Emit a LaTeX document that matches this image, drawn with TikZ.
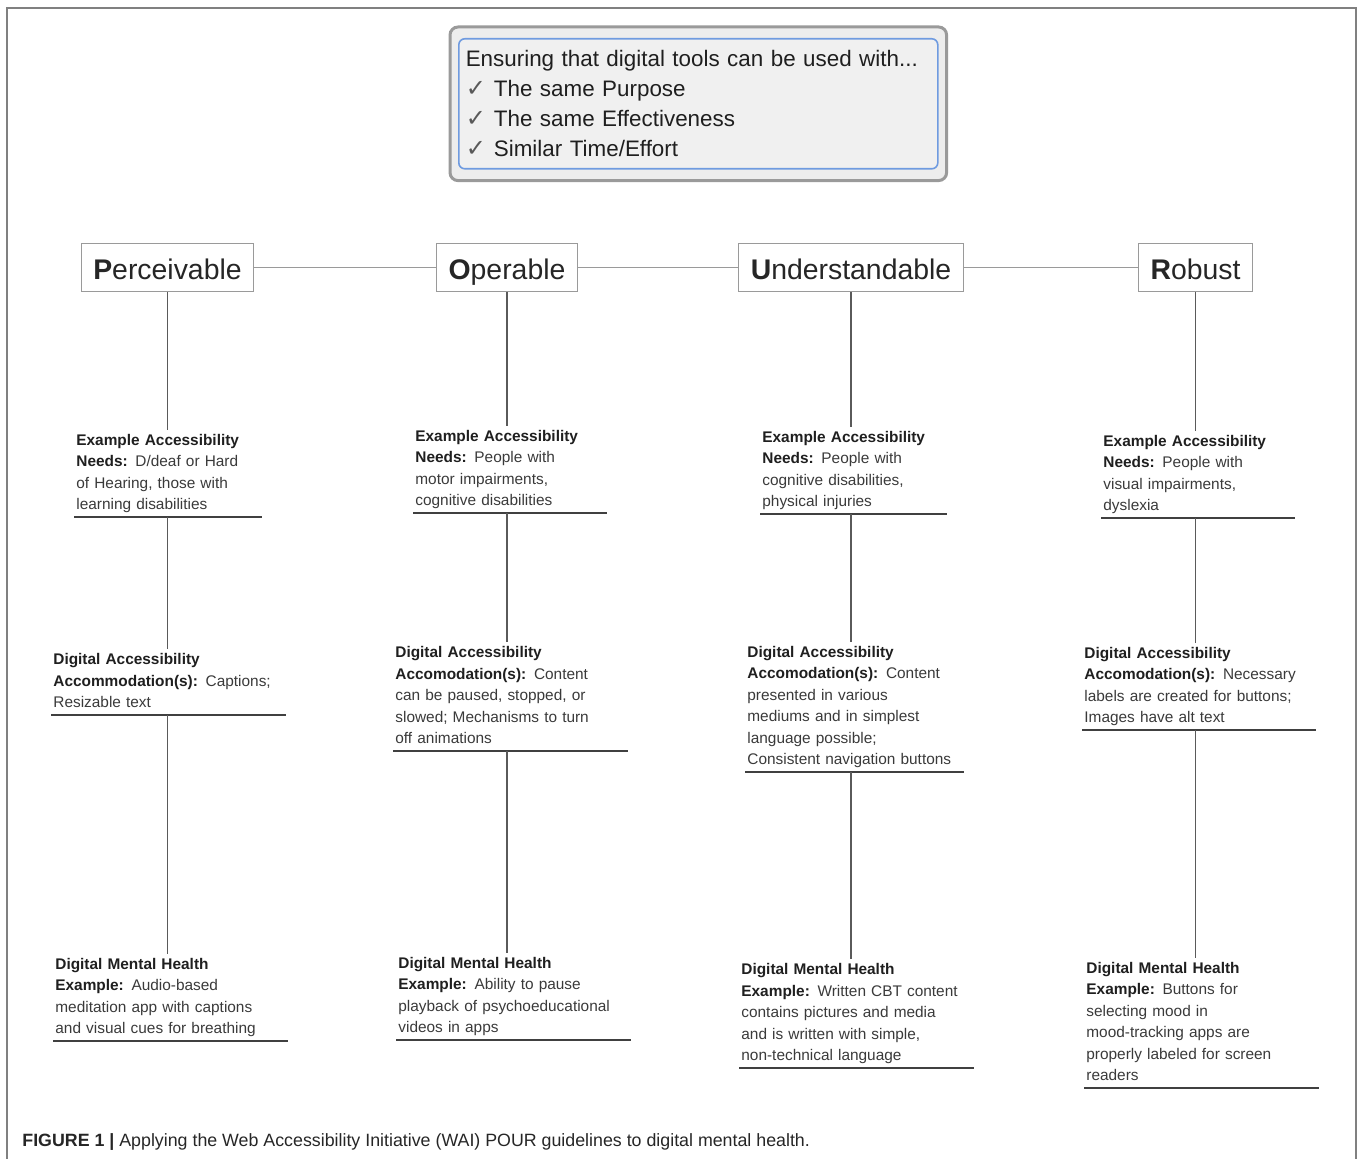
\documentclass[tikz,border=0pt]{standalone}
\usepackage{fontspec}
\setmainfont{Liberation Sans}
\newfontfamily\checkfont{DejaVu Sans}
\newfontfamily\capfont{Liberation Sans}
\usetikzlibrary{fit,backgrounds}

\definecolor{framegray}{HTML}{808080}
\definecolor{boxgray}{HTML}{9A9A9A}
\definecolor{linkgray}{HTML}{9A9A9A}
\definecolor{stemgray}{HTML}{5A5A5A}
\definecolor{rulegray}{HTML}{404040}
\definecolor{inkgray}{HTML}{3A3A3A}
\definecolor{panelgray}{HTML}{F0F0F0}
\definecolor{panelblue}{HTML}{6F9BE0}

\newcommand{\keyterm}[1]{\textbf{\color{black!88}#1}}
\newcommand{\tick}{{\checkfont\fontsize{12}{15}\selectfont\color{black!65}✓}\hspace{4pt}}

\tikzset{
  pour/.style={draw=boxgray, line width=0.6pt, inner xsep=6pt, minimum height=24pt,
    text height=12pt, text depth=0.3pt, font=\fontsize{14.2}{17}\selectfont, text=black!85},
  note/.style={anchor=south west, inner xsep=1pt, inner ysep=0.1pt, align=left,
    font=\fontsize{7.7}{10.75}\selectfont, text=inkgray,
    execute at begin node=\strut, execute at end node=\strut},
  link/.style={draw=linkgray, line width=0.7pt},
  stem/.style={draw=stemgray, line width=0.7pt},
  rule/.style={draw=rulegray, line width=1pt},
}

\begin{document}
\begin{tikzpicture}[x=0.5pt, y=-0.5pt]
  \useasboundingbox (0,0) rectangle (1358,1159);
  \draw[framegray, line width=0.8pt] (7,1159) -- (7,8) -- (1356,8) -- (1356,1159);

  % the three conditions
  \node[draw=panelblue, line width=0.8pt, fill=panelgray, rounded corners=3pt, anchor=north west,
    text width=232.5pt, minimum height=65pt, inner xsep=3.5pt, align=left,
    font=\fontsize{11.2}{15}\selectfont, text=black!88] (goal) at (458,38)
    {Ensuring that digital tools can be used with...\\ \tick The same Purpose\\ \tick The same Effectiveness\\ \tick Similar Time/Effort};
  \begin{scope}[on background layer]
    \node[fit=(goal), inner xsep=4pt, inner ysep=5.5pt, draw=boxgray, line width=1.5pt,
      fill=black!7, rounded corners=4pt] (goalframe) {};
  \end{scope}

  % POUR headings
  \node[pour] (perc) at (167.5,267.5) {\textbf{P}erceivable};
  \node[pour] (oper) at (507,267.5) {\textbf{O}perable};
  \node[pour] (unde) at (851,267.5) {\textbf{U}nderstandable};
  \node[pour] (robu) at (1195.5,267.5) {\textbf{R}obust};
  \draw[link] (perc) -- (oper);
  \draw[link] (oper) -- (unde);
  \draw[link] (unde) -- (robu);

  % Perceivable
  \node[note, text width=91.5pt] (pneed) at (74,517) {\keyterm{Example Accessibility}\\ \keyterm{Needs:} D/deaf or Hard\\ of Hearing, those with\\ learning disabilities};
  \node[note, text width=115pt] (pacc) at (51,715) {\keyterm{Digital Accessibility}\\ \keyterm{Accommodation(s):} Captions;\\ Resizable text};
  \node[note, text width=115pt] (pex) at (53,1041) {\keyterm{Digital Mental Health}\\ \keyterm{Example:} Audio-based\\ meditation app with captions\\ and visual cues for breathing};

  % Operable
  \node[note, text width=94.5pt] (oneed) at (413,513) {\keyterm{Example Accessibility}\\ \keyterm{Needs:} People with\\ motor impairments,\\ cognitive disabilities};
  \node[note, text width=115pt] (oacc) at (393,751) {\keyterm{Digital Accessibility}\\ \keyterm{Accomodation(s):} Content\\ can be paused, stopped, or\\ slowed; Mechanisms to turn\\ off animations};
  \node[note, text width=115pt] (oex) at (396,1040) {\keyterm{Digital Mental Health}\\ \keyterm{Example:} Ability to pause\\ playback of psychoeducational\\ videos in apps};

  % Understandable
  \node[note, text width=91pt] (uneed) at (760,514) {\keyterm{Example Accessibility}\\ \keyterm{Needs:} People with\\ cognitive disabilities,\\ physical injuries};
  \node[note, text width=107pt] (uacc) at (745,772) {\keyterm{Digital Accessibility}\\ \keyterm{Accomodation(s):} Content\\ presented in various\\ mediums and in simplest\\ language possible;\\ Consistent navigation buttons};
  \node[note, text width=115pt] (uex) at (739,1068) {\keyterm{Digital Mental Health}\\ \keyterm{Example:} Written CBT content\\ contains pictures and media\\ and is written with simple,\\ non-technical language};

  % Robust
  \node[note, text width=94.5pt] (rneed) at (1101,518) {\keyterm{Example Accessibility}\\ \keyterm{Needs:} People with\\ visual impairments,\\ dyslexia};
  \node[note, text width=114.5pt] (racc) at (1082,730) {\keyterm{Digital Accessibility}\\ \keyterm{Accomodation(s):} Necessary\\ labels are created for buttons;\\ Images have alt text};
  \node[note, text width=115pt] (rex) at (1084,1088) {\keyterm{Digital Mental Health}\\ \keyterm{Example:} Buttons for\\ selecting mood in\\ mood-tracking apps are\\ properly labeled for screen\\ readers};

  \foreach \head/\need/\acc/\ex in {perc/pneed/pacc/pex, oper/oneed/oacc/oex, unde/uneed/uacc/uex, robu/rneed/racc/rex}{
    \draw[rule] (\need.south west) -- (\need.south east);
    \draw[rule] (\acc.south west) -- (\acc.south east);
    \draw[rule] (\ex.south west) -- (\ex.south east);
    \draw[stem] (\head.south) -- (\head.south |- \need.north);
    \draw[stem] (\head.south |- \need.south) -- (\head.south |- \acc.north);
    \draw[stem] (\head.south |- \acc.south) -- (\head.south |- \ex.north);
  }

  \node[anchor=base west, inner sep=0pt, font=\capfont\fontsize{8.9}{10}\selectfont, text=black!85] (caption) at (22,1146)
    {\textbf{FIGURE 1 |} Applying the Web Accessibility Initiative (WAI) POUR guidelines to digital mental health.};
\end{tikzpicture}
\end{document}
